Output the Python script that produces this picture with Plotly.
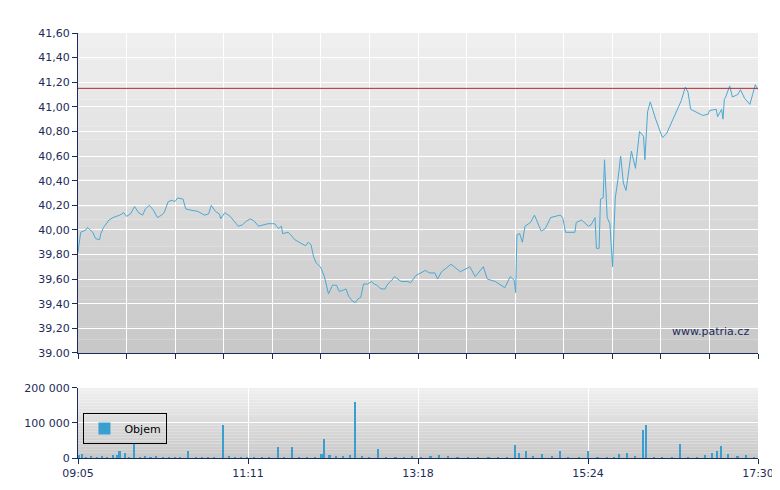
import pandas as pd
import plotly.graph_objects as go
from plotly.subplots import make_subplots

# minutes after 09:05 and price
price_min = [0, 2, 6, 7, 11, 13, 16, 17, 19, 23, 26, 31, 34, 36, 39, 42, 45, 48, 50, 53, 56, 59, 62, 64,
             67, 70, 72, 74, 78, 80, 84, 89, 94, 97, 99, 102, 105, 106, 109, 113, 116, 119, 122, 125,
             128, 131, 134, 137, 141, 146, 149, 151, 152, 156, 158, 161, 164, 169, 171, 173, 175, 177,
             180, 183, 186, 189, 192, 194, 197, 199, 201, 204, 206, 208, 210, 212, 215, 218, 220, 222,
             225, 228, 230, 233, 235, 238, 240, 245, 247, 251, 258, 261, 265, 267, 270, 277, 284, 291,
             295, 301, 304, 310, 317, 321, 324, 325, 326, 328, 330, 332, 336, 339, 342, 344, 347, 351,
             358, 360, 362, 369, 370, 374, 379, 381, 384, 385, 387, 388, 390, 391, 393, 395, 397, 399,
             401, 403, 405, 407, 408, 411, 414, 415, 417, 420, 421, 423, 425, 429, 434, 437, 443, 448,
             451, 453, 455, 460, 464, 468, 469, 474, 475, 478, 479, 480, 481, 484, 486, 490, 492, 495,
             499, 501, 503, 505]
price = [39.82, 39.98, 40.00, 40.02, 39.98, 39.93, 39.92, 39.97, 40.02, 40.08, 40.10, 40.12, 40.14,
         40.11, 40.13, 40.19, 40.14, 40.12, 40.17, 40.20, 40.16, 40.10, 40.12, 40.14, 40.23, 40.24,
         40.23, 40.26, 40.25, 40.17, 40.16, 40.15, 40.12, 40.13, 40.20, 40.15, 40.13, 40.09, 40.14,
         40.11, 40.07, 40.03, 40.04, 40.07, 40.09, 40.07, 40.03, 40.04, 40.05, 40.05, 40.01, 40.03,
         39.97, 39.98, 39.96, 39.92, 39.90, 39.87, 39.90, 39.88, 39.78, 39.73, 39.70, 39.62, 39.48,
         39.55, 39.55, 39.50, 39.51, 39.52, 39.46, 39.42, 39.41, 39.44, 39.45, 39.56, 39.56, 39.58,
         39.56, 39.55, 39.52, 39.52, 39.56, 39.59, 39.62, 39.60, 39.58, 39.58, 39.57, 39.63, 39.67,
         39.65, 39.65, 39.60, 39.66, 39.72, 39.66, 39.70, 39.62, 39.70, 39.60, 39.58, 39.53, 39.62,
         39.59, 39.49, 39.96, 39.97, 39.90, 40.03, 40.06, 40.12, 40.05, 39.99, 40.01, 40.10, 40.12,
         40.10, 39.98, 39.98, 40.06, 40.08, 40.03, 40.04, 40.10, 39.85, 39.85, 40.25, 40.26, 40.57,
         40.10, 40.05, 39.70, 40.26, 40.41, 40.60, 40.38, 40.32, 40.40, 40.64, 40.50, 40.60, 40.80,
         40.76, 40.57, 40.96, 41.04, 40.90, 40.75, 40.78, 40.92, 41.05, 41.16, 41.12, 40.98, 40.95,
         40.93, 40.94, 40.97, 40.98, 40.92, 40.98, 40.90, 41.06, 41.08, 41.17, 41.08, 41.10, 41.14,
         41.07, 41.02, 41.10, 41.18, 41.14]
prev_close = 41.15

vol_min = [1, 3, 6, 10, 14, 18, 22, 26, 29, 31, 35, 38, 42, 46, 50, 54, 58, 63, 68, 72, 76, 82, 88, 92,
           97, 101, 108, 112, 117, 121, 126, 131, 137, 142, 149, 153, 159, 164, 170, 176, 181, 183,
           187, 192, 197, 202, 206, 211, 216, 223, 229, 236, 242, 248, 255, 262, 268, 275, 282, 290,
           297, 305, 312, 319, 325, 328, 333, 338, 345, 352, 358, 364, 372, 379, 386, 393, 398, 402,
           408, 414, 420, 422, 428, 434, 441, 447, 453, 460, 466, 471, 475, 478, 483, 490, 496, 502]
volume = [8000, 12000, 3000, 5000, 4000, 6000, 3000, 9000, 10000, 22000, 15000, 4000, 42000, 3000,
          6000, 2000, 5000, 4000, 2000, 4000, 3000, 20000, 2000, 3000, 1500, 2000, 95000, 5000, 3000,
          2000, 1500, 3000, 2000, 2000, 32000, 4000, 33000, 3000, 2000, 3000, 12000, 55000, 8000,
          5000, 6000, 9000, 160000, 5000, 3000, 25000, 4000, 3000, 2000, 5000, 4000, 6000, 9000, 5000,
          4000, 3000, 2000, 3000, 4000, 2000, 37000, 15000, 22000, 6000, 12000, 5000, 20000, 3000,
          4000, 22000, 3000, 2000, 4000, 12000, 15000, 6000, 80000, 95000, 3000, 2000, 3000, 40000,
          3000, 2000, 8000, 15000, 20000, 34000, 12000, 6000, 9000, 4000]

x_ticks = [0, 126.25, 252.5, 378.75, 505]
x_labels = ["09:05", "11:11", "13:18", "15:24", "17:30"]
y_ticks = [39.0, 39.2, 39.4, 39.6, 39.8, 40.0, 40.2, 40.4, 40.6, 40.8, 41.0, 41.2, 41.4, 41.6]
y_labels = ["39.00"] + [f"{v:.2f}".replace(".", ",") for v in y_ticks[1:]]

navy = "#1c2b5a"
line_col = "#4aa8d4"

fig = make_subplots(rows=2, cols=1, row_heights=[0.82, 0.18], vertical_spacing=0.082)

# gradient background
for y0, y1 in [(0.247, 1.0), (0.0, 0.165)]:
    n = 24
    for i in range(n):
        g = int(0xc8 + (0xf0 - 0xc8) * (i + 0.5) / n)
        fig.add_shape(type="rect", xref="paper", yref="paper", x0=0, x1=1,
                      y0=y0 + (y1 - y0) * i / n, y1=y0 + (y1 - y0) * (i + 1) / n,
                      fillcolor=f"rgb({g},{g},{g})", line_width=0, layer="below")

fig.add_trace(go.Scatter(x=price_min, y=price, mode="lines", line=dict(color=line_col, width=1),
                         showlegend=False), row=1, col=1)
fig.add_hline(y=prev_close, line=dict(color="#b03030", width=1), row=1, col=1)
fig.add_trace(go.Bar(x=vol_min, y=volume, width=1.2, marker=dict(color="#3a9fd0", line_width=0),
                     name="Objem"), row=2, col=1)

axis_common = dict(showline=True, linecolor=navy, linewidth=1, ticks="outside", tickcolor=navy,
                   ticklen=5, gridcolor="white", gridwidth=1, zeroline=False, automargin=False,
                   tickfont=dict(family="DejaVu Sans", size=11, color=navy))
fig.update_xaxes(**axis_common, range=[0, 505])
fig.update_xaxes(tickvals=[505 / 14 * i for i in range(15)], showticklabels=False, row=1, col=1)
fig.update_xaxes(tickvals=x_ticks, ticktext=x_labels, row=2, col=1)
fig.update_yaxes(**axis_common)
fig.update_yaxes(range=[39.0, 41.6], tickvals=y_ticks, ticktext=y_labels, row=1, col=1)
fig.update_yaxes(range=[0, 200000], tickvals=[0, 100000, 200000],
                 ticktext=["0", "100 000", "200 000"], row=2, col=1)

fig.add_annotation(text="www.patria.cz", xref="paper", yref="paper", x=0.99, y=0.298,
                   xanchor="right", yanchor="middle", showarrow=False,
                   font=dict(family="DejaVu Sans", size=11, color=navy))

fig.update_layout(width=780, height=490, margin=dict(l=70, r=30, t=25, b=40, autoexpand=False),
                  paper_bgcolor="white", plot_bgcolor="rgba(0,0,0,0)", bargap=0,
                  showlegend=True,
                  legend=dict(x=0.008, y=0.106, xanchor="left", yanchor="top", itemwidth=30,
                              bordercolor="black", borderwidth=1, bgcolor="rgba(0,0,0,0)",
                              font=dict(family="DejaVu Sans", size=11, color="black")))

fig.write_html("out.html")
